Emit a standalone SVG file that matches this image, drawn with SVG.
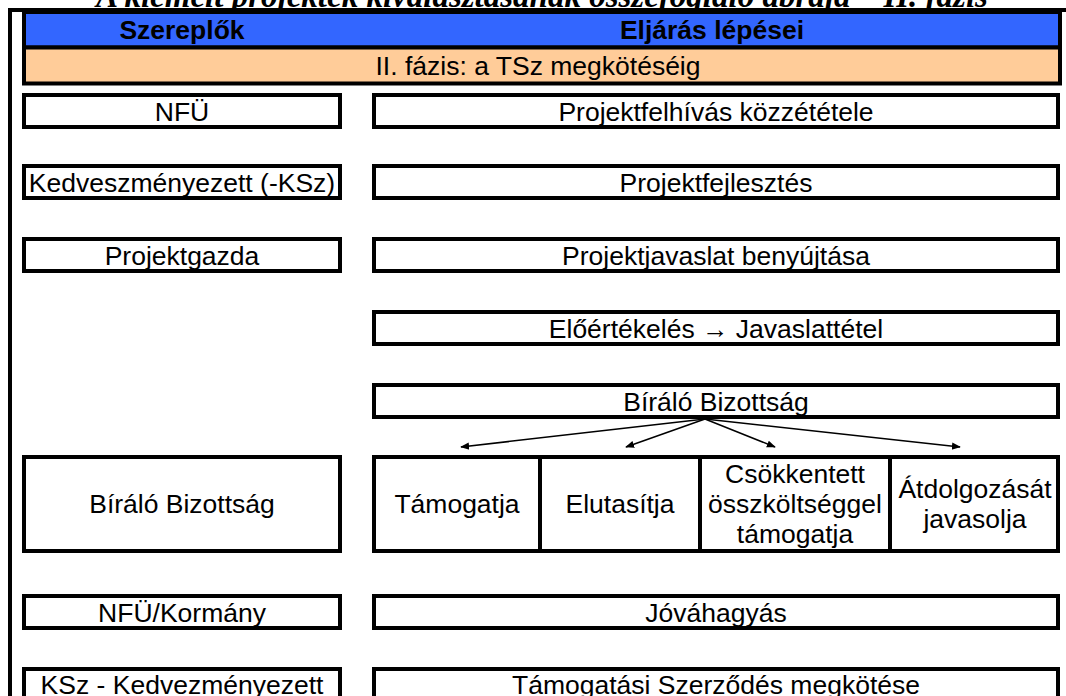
<svg xmlns="http://www.w3.org/2000/svg" width="1066" height="696" viewBox="0 0 1066 696">
<defs>
<style>
.box{fill:#fff;stroke:#000;stroke-width:4}
.t{font-family:"Liberation Sans",Arial,sans-serif;font-size:26.5px;fill:#000;text-anchor:middle}
.h{font-family:"Liberation Sans",Arial,sans-serif;font-size:26.5px;font-weight:bold;fill:#000;text-anchor:middle}
.con{stroke:#000;stroke-width:1.5;fill:none;marker-end:url(#ah)}
</style>
<marker id="ah" viewBox="0 0 10 10" refX="9" refY="5" markerWidth="9" markerHeight="9" markerUnits="userSpaceOnUse" orient="auto">
<path d="M0,1 L10,5 L0,9 z" fill="#000"/>
</marker>
</defs>
<rect width="1066" height="696" fill="#fff"/>
<text x="542" y="7" font-family="'Liberation Serif','Times New Roman',serif" font-size="33" font-weight="bold" font-style="italic" text-anchor="middle">A kiemelt projektek kiválasztásának összefoglaló ábrája – II. fázis</text>
<path d="M10,696 V10 H1066" fill="none" stroke="#000" stroke-width="4"/>
<g id="header">
<rect x="24" y="12" width="1036" height="35.5" fill="#3366FF" stroke="#000" stroke-width="4"/>
<text class="h" x="182" y="39">Szereplők</text>
<text class="h" x="712" y="39">Eljárás lépései</text>
</g>
<g id="phase">
<rect x="24" y="47.5" width="1036" height="36" fill="#FFCC99" stroke="#000" stroke-width="4"/>
<text class="t" x="538" y="75">II. fázis: a TSz megkötéséig</text>
</g>
<g id="n-nfu"><rect class="box" x="24" y="95" width="316" height="32"/><text class="t" x="182" y="120.5">NFÜ</text></g>
<g id="s-felhivas"><rect class="box" x="374" y="95" width="684" height="32"/><text class="t" x="716" y="120.5">Projektfelhívás közzététele</text></g>
<g id="n-kedv"><rect class="box" x="24" y="166" width="316" height="32"/><text class="t" x="182" y="191.5">Kedveszményezett (-KSz)</text></g>
<g id="s-fejl"><rect class="box" x="374" y="166" width="684" height="32"/><text class="t" x="716" y="191.5">Projektfejlesztés</text></g>
<g id="n-gazda"><rect class="box" x="24" y="239" width="316" height="32"/><text class="t" x="182" y="264.5">Projektgazda</text></g>
<g id="s-benyujt"><rect class="box" x="374" y="239" width="684" height="32"/><text class="t" x="716" y="264.5">Projektjavaslat benyújtása</text></g>
<g id="s-eloert"><rect class="box" x="374" y="312" width="684" height="32"/><text class="t" x="716" y="337.5">Előértékelés → Javaslattétel</text></g>
<g id="s-bb"><rect class="box" x="374" y="385" width="684" height="32"/><text class="t" x="716" y="410.5">Bíráló Bizottság</text></g>
<g id="n-bb"><rect class="box" x="24" y="457" width="316" height="94"/><text class="t" x="182" y="513">Bíráló Bizottság</text></g>
<g id="s-dontes">
<rect class="box" x="374" y="457" width="684" height="94"/>
<path d="M540,457 V551 M700,457 V551 M890,457 V551" stroke="#000" stroke-width="4"/>
<text class="t" x="457" y="513">Támogatja</text>
<text class="t" x="620" y="513">Elutasítja</text>
<text class="t" x="795" y="483">Csökkentett</text>
<text class="t" x="795" y="513">összköltséggel</text>
<text class="t" x="795" y="543">támogatja</text>
<text class="t" x="975" y="498">Átdolgozását</text>
<text class="t" x="975" y="528">javasolja</text>
</g>
<g id="n-korm"><rect class="box" x="24" y="596" width="316" height="32"/><text class="t" x="182" y="621.5">NFÜ/Kormány</text></g>
<g id="s-jova"><rect class="box" x="374" y="596" width="684" height="32"/><text class="t" x="716" y="621.5">Jóváhagyás</text></g>
<g id="n-ksz"><rect class="box" x="24" y="669" width="316" height="32"/><text class="t" x="182" y="694">KSz - Kedvezményezett</text></g>
<g id="s-tsz"><rect class="box" x="374" y="669" width="684" height="32"/><text class="t" x="716" y="694">Támogatási Szerződés megkötése</text></g>
<g id="connectors">
<line class="con" x1="705" y1="419" x2="461" y2="447"/>
<line class="con" x1="705" y1="419" x2="626" y2="447"/>
<line class="con" x1="705" y1="419" x2="775" y2="447"/>
<line class="con" x1="705" y1="419" x2="960" y2="447"/>
</g>
</svg>
